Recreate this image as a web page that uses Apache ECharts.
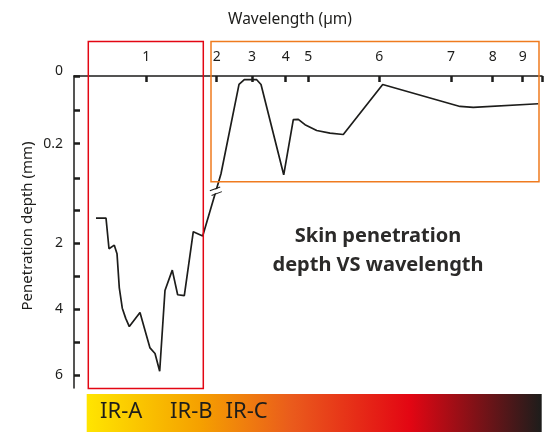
<!DOCTYPE html>
<html>
<head>
<meta charset="utf-8">
<script src="https://cdn.jsdelivr.net/npm/echarts@6/dist/echarts.min.js"></script>
<style>
html,body{margin:0;padding:0;background:#fff;}
#main{width:553px;height:432px;}
</style>
</head>
<body>
<div id="main"></div>
<script>
// position along the (schematic) wavelength axis, 0 = left end, 100 = right end
var wavePos = [4.70, 6.84, 7.48, 8.61, 9.19, 9.68, 10.32, 11.05, 11.82, 14.10, 15.24, 16.24, 17.31, 18.31,
    19.44, 21.00, 22.15, 23.57, 25.49, 27.50,
    31.41, 35.26, 36.39, 39.04, 39.96, 44.81, 46.86, 47.93, 49.36, 51.86, 54.70, 57.54, 65.96, 82.48, 85.32, 99.21];
// penetration depth (mm); >= 1 mm is read on the lower scale, < 1 mm on the upper scale
var depthMm = [1.23, 1.23, 2.16, 2.05, 2.31, 3.35, 3.97, 4.28, 4.53, 4.10, 4.68, 5.18, 5.35, 5.89,
    3.43, 2.81, 3.56, 3.59, 1.64, 1.77,
    0.289, 0.025, 0.011, 0.011, 0.025, 0.292, 0.129, 0.128, 0.144, 0.161, 0.169, 0.173, 0.025, 0.090, 0.093, 0.082];

var xTickPos = [15.45, 30.49, 38.03, 45.24, 50.06, 65.24, 80.56, 89.47, 95.88];
var xTickLabels = ['1', '2', '3', '4', '5', '6', '7', '8', '9'];

var upperTicks = [0, 0.1, 0.2];
var upperLabels = [0, 0.2];
var lowerTicks = [0, 1, 2, 3, 4, 5, 6];
var lowerLabels = [2, 4, 6];

var bandLabels = ['IR-A', 'IR-B', 'IR-C'];

// broken axis: upper part stretched, lower part shifted down
var UPPER_SCALE = 10.3;
var LOWER_OFFSET = 3.1;

function toAxis(d){
    return d < 1 ? d * UPPER_SCALE : d + LOWER_OFFSET;
}
function key(v){
    return (Math.round(v * 1000) / 1000).toString();
}

var FONT = 'Noto Sans';
var INK = '#1d1d1b';

function draw(){
    var myChart = echarts.init(document.getElementById('main'));

    var lineData = [];
    var breakIdx = -1;
    for(var i = 0; i < wavePos.length; i++){
        lineData.push([wavePos[i], toAxis(depthMm[i])]);
        if(i > 0 && depthMm[i - 1] >= 1 && depthMm[i] < 1){
            breakIdx = i;
        }
    }
    // spot on the segment that crosses the break
    var a = lineData[breakIdx - 1], b = lineData[breakIdx];
    var t = 0.72;
    var breakCoord = [a[0] + (b[0] - a[0]) * t, a[1] + (b[1] - a[1]) * t];

    var yTickVals = [];
    var yLabelVals = [];
    var yLabelMap = {};
    upperTicks.forEach(function(d){ yTickVals.push(d * UPPER_SCALE); });
    lowerTicks.forEach(function(d){ yTickVals.push(d + LOWER_OFFSET); });
    upperLabels.forEach(function(d){ var v = d * UPPER_SCALE; yLabelVals.push(v); yLabelMap[key(v)] = String(d); });
    lowerLabels.forEach(function(d){ var v = d + LOWER_OFFSET; yLabelVals.push(v); yLabelMap[key(v)] = String(d); });

    var xLabelMap = {};
    xTickPos.forEach(function(p, i){ xLabelMap[key(p)] = xTickLabels[i]; });

    var bandX = [100, 170, 225.5];

    var option = {
        animation: false,
        grid: {left: 74, top: 76, right: 11, bottom: 44},
        xAxis: {
            type: 'value',
            position: 'top',
            min: 0,
            max: 100,
            splitLine: {show: false},
            axisLine: {show: true, onZero: false, lineStyle: {color: INK, width: 1.5}},
            axisTick: {show: true, inside: true, length: 6, customValues: xTickPos.concat([100]),
                lineStyle: {color: INK, width: 2.5}},
            axisLabel: {
                customValues: xTickPos,
                margin: 12,
                fontFamily: FONT,
                fontSize: 14,
                color: INK,
                formatter: function(v){ return xLabelMap[key(v)] || ''; }
            }
        },
        yAxis: {
            type: 'value',
            inverse: true,
            min: 0,
            max: 9.5,
            splitLine: {show: false},
            axisLine: {show: true, onZero: false, lineStyle: {color: INK, width: 1.5}},
            axisTick: {show: true, inside: true, length: 6, customValues: yTickVals,
                lineStyle: {color: INK, width: 2.5}},
            axisLabel: {
                customValues: yLabelVals,
                margin: 11,
                fontFamily: FONT,
                fontSize: 14,
                color: INK,
                formatter: function(v){
                    var s = yLabelMap[key(v)] || '';
                    return v === 0 ? '{up|' + s + '}' : s;
                },
                rich: {up: {fontFamily: FONT, fontSize: 14, color: INK, padding: [0, 0, 10, 0]}}
            }
        },
        series: [
            {
                type: 'line',
                data: lineData,
                showSymbol: false,
                symbol: 'none',
                lineStyle: {color: INK, width: 1.7},
                z: 3,
                markPoint: {
                    silent: true,
                    label: {show: false},
                    data: [
                        {coord: breakCoord, symbol: 'rect', symbolSize: [11, 3.5], symbolRotate: 20,
                            itemStyle: {color: '#fff'}},
                        {coord: breakCoord, symbol: 'path://M0,0L12,0M0,5L12,5', symbolSize: [11, 5], symbolRotate: 20,
                            itemStyle: {color: 'none', borderColor: INK, borderWidth: 1.5}}
                    ]
                }
            }
        ],
        graphic: [
            {type: 'text', x: 290, y: 20,
                style: {text: 'Wavelength (µm)', align: 'center', verticalAlign: 'middle',
                    font: '15.5px "' + FONT + '"', fill: INK}},
            {type: 'text', x: 28, y: 226, rotation: Math.PI / 2,
                style: {text: 'Penetration depth (mm)', align: 'center', verticalAlign: 'middle',
                    font: '15px "' + FONT + '"', fill: INK}},
            {type: 'text', x: 378, y: 251,
                style: {text: 'Skin penetration\ndepth VS wavelength', align: 'center', verticalAlign: 'middle',
                    lineHeight: 28.5, font: 'bold 20px "' + FONT + '"', fill: '#2b2a29'}},
            {type: 'rect', z: 100, shape: {x: 88.3, y: 41.5, width: 115, height: 347},
                style: {fill: 'none', stroke: '#e30613', lineWidth: 1.5}},
            {type: 'rect', z: 100, shape: {x: 211, y: 41.5, width: 328, height: 140.2},
                style: {fill: 'none', stroke: '#ef7b1f', lineWidth: 1.5}},
            {type: 'rect', z: 1, shape: {x: 86.7, y: 394, width: 455, height: 38},
                style: {fill: new echarts.graphic.LinearGradient(0, 0, 1, 0, [
                    {offset: 0, color: '#ffe500'},
                    {offset: 0.25, color: '#f5a000'},
                    {offset: 0.45, color: '#ea5b1c'},
                    {offset: 0.71, color: '#e30613'},
                    {offset: 1, color: '#1d1d1b'}
                ])}},
            {type: 'text', z: 2, x: bandX[0], y: 423, style: {text: bandLabels[0], verticalAlign: 'bottom',
                font: '22px "' + FONT + '"', fill: INK}},
            {type: 'text', z: 2, x: bandX[1], y: 423, style: {text: bandLabels[1], verticalAlign: 'bottom',
                font: '22px "' + FONT + '"', fill: INK}},
            {type: 'text', z: 2, x: bandX[2], y: 423, style: {text: bandLabels[2], verticalAlign: 'bottom',
                font: '22px "' + FONT + '"', fill: INK}}
        ]
    };

    myChart.setOption(option);
}

draw();
</script>
</body>
</html>
